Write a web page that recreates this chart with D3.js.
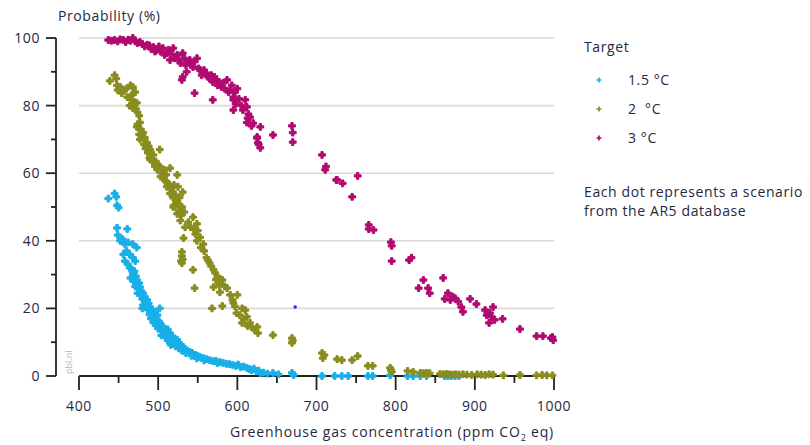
<!DOCTYPE html>
<html>
<head>
<meta charset="utf-8">
<script src="https://cdn.jsdelivr.net/npm/d3@7"></script>
<style>
  body { margin: 0; background: #fff; }
  svg { font-family: "Open Sans", "Noto Sans", sans-serif; }
  .lbl { font-size: 14px; letter-spacing: 0.6px; fill: #262842; font-weight: 500; }
</style>
</head>
<body>
<svg id="chart" width="810" height="445"></svg>
<script>
/* scenario points, [ppm CO2 eq, probability %] */
var target15 = [[437,52.5],[445,54],[447,53],[448,50.5],[450,49.8],[448,43.8],[461,43.5],[449,41.7],[452,40],[455,40.5],[458,39],[462,39.5],[468,39],[473,38],[456,36],[460,37],[464,36],[468,35],[471,34],[458,34],[462,33],[464,32],[467,31.5],[470,31],[468,30.5],[472,29.5],[465,29],[469,28],[473,28.4],[476,27.5],[471,26.5],[475,26],[477,26.3],[479,25],[474,24.5],[478,24],[481,24.5],[483,23.5],[480,22.8],[484,22.5],[486,22.5],[488,21.5],[481,21],[485,20.8],[480,20],[490,20.4],[487,19.6],[492,19.5],[494,18.6],[489,18.2],[496,19],[502,20],[499,18],[491,17],[495,17.2],[498,16.6],[501,16.2],[494,15.8],[497,15],[503,15.5],[506,14.5],[500,14],[504,13.5],[509,14],[512,13.8],[507,12.8],[511,12.5],[515,12.7],[504,12],[509,11.5],[514,11.3],[518,11.8],[521,11],[512,10.5],[517,10.3],[524,10.7],[520,9.8],[526,9.5],[516,9.2],[522,8.8],[529,9.2],[531,8.6],[526,8.2],[534,8],[530,7.5],[537,7.5],[540,7.1],[535,6.8],[543,6.8],[547,6.2],[542,6],[550,5.9],[553,5.6],[549,5.2],[557,5.3],[561,5],[565,4.7],[558,4.6],[569,4.4],[573,4.5],[578,4.1],[575,3.8],[582,3.9],[586,3.6],[590,3.5],[594,3.3],[598,3],[601,3.4],[604,2.6],[608,2.8],[612,2.4],[615,2.1],[618,1.7],[621,2.2],[624,1.4],[629,0.9],[627,1.6],[633,1],[638,0.7],[645,0.9],[652,0.5],[669,0.9],[671,0.3],[707,0],[723,0],[732,0],[740,0],[765,0],[771,0],[793,0.2],[815,0],[822,0],[831,0],[839,0],[862,0],[866,0],[870,0],[875,0],[880,0]];

var target2 = [[439,87.3],[445,89],[447,88],[448,86],[449,84.6],[452,85.5],[454,83.7],[457,84.5],[460,85],[465,86],[468,85.5],[471,84],[466,83],[461,82.5],[467,81.7],[470,80.5],[473,80.8],[464,80],[468,79.3],[472,79],[474,78],[476,77],[477,75],[474,74.5],[473,73.7],[478,73],[481,72],[476,71.5],[479,71],[477,70],[483,70.5],[486,69],[482,68.5],[488,68],[484,67.3],[490,67],[487,66],[491,66],[494,65.4],[502,67],[489,64.5],[490,64],[493,63.5],[497,63.5],[496,62],[500,62.3],[502,62],[499,61],[505,60],[508,61],[515,61.5],[503,59],[507,58.5],[510,59.5],[524,59.5],[509,57.7],[511,57.4],[513,56.8],[511,56],[517,55.6],[520,56.5],[525,56],[515,54],[518,54.5],[531,54.4],[522,53.5],[519,52.7],[524,52],[527,52.8],[525,51],[520,50.5],[530,50],[519,50],[526,49],[524,48],[529,47.5],[533,48.5],[528,46],[544,47],[538,45.5],[549,45],[534,44],[541,44],[545,43.5],[550,43],[547,42],[553,41],[532,40.8],[549,40],[557,39],[554,38],[558,37],[530,36.7],[530,35.5],[531,34.5],[530,33.4],[529,34],[561,35],[563,34.2],[565,33.4],[567,32.5],[570,31.4],[544,31.4],[572,30.5],[575,29.3],[573,28.5],[578,28.8],[581,28.4],[570,26.3],[577,27],[546,26],[584,26.5],[587,26],[578,24.8],[591,24],[600,24],[594,22.5],[595,21.6],[568,20],[581,20.7],[597,20.6],[599,18.6],[606,20],[610,19.5],[603,18],[612,17.5],[608,16.8],[606,15.7],[616,15.7],[613,14.8],[618,14.5],[625,14.5],[622,13.6],[626,12.7],[645,12.1],[669,11.2],[669,9.8],[670,10.5],[707,6.8],[708,5.3],[710,6.2],[726,5],[732,4.7],[745,4.7],[752,5.9],[765,3],[771,3],[793,2.4],[795,1.2],[794,1.8],[815,1.5],[822,1.2],[831,0.9],[835,0.8],[839,0.9],[843,0.8],[856,0.6],[860,0.5],[864,0.6],[868,0.5],[872,0.4],[876,0.5],[880,0.4],[885,0.5],[890,0.4],[896,0.3],[903,0.5],[908,0.4],[913,0.3],[918,0.5],[923,0.4],[936,0.2],[957,0.3],[978,0.2],[985,0.3],[991,0.2],[998,0.2]];

var target3 = [[437,99.4],[441,99.2],[445,99.4],[449,99],[452,99.6],[456,99.4],[459,98.8],[462,99.5],[465,99.2],[468,100],[471,99],[474,98.5],[477,98.8],[480,98.2],[483,97.5],[486,98],[489,97.8],[491,96.8],[494,97.3],[496,96],[498,96.4],[501,97.5],[503,96],[506,97],[508,95],[511,95.5],[513,96.5],[515,93.5],[517,95.2],[519,97],[521,94],[524,95],[526,93.5],[528,92.6],[531,95.5],[533,94],[535,92],[536,90],[538,93],[540,93.5],[542,92],[544,91.4],[546,93],[549,94],[551,91],[553,90.5],[530,87.6],[531,88.5],[555,89],[558,90.5],[561,89.6],[563,88.5],[565,88],[567,89],[569,87],[571,88.5],[573,87.6],[575,86],[577,87],[580,85.5],[582,86.7],[584,85],[587,87.6],[589,84],[591,84.6],[593,86],[595,82.5],[597,84],[600,85],[546,83.7],[569,81.7],[595,81.7],[598,80.5],[602,82],[605,80],[607,78.7],[610,81.7],[612,79.6],[595,78.7],[614,77.5],[613,76.3],[612,75],[616,76.6],[618,74],[620,74.8],[625,70.7],[626,69],[625,70.4],[629,73.7],[629,67.5],[627,68.5],[645,71.3],[669,74],[670,69.2],[670,72],[707,65.4],[711,61],[712,62],[726,58],[725,58],[733,57],[752,59.2],[745,53],[766,44.7],[766,43.5],[772,43.2],[794,39.6],[795,38.5],[795,34],[817,34.3],[820,35],[835,28.4],[829,26],[841,26],[843,24.5],[860,29],[866,24.5],[862,22.8],[869,22.5],[872,23.5],[875,23],[879,22],[883,20.4],[885,19],[894,22.8],[902,21.3],[913,19.5],[915,18],[919,18.6],[918,15.7],[921,17.5],[923,20.4],[925,16.6],[935,16.9],[957,13.9],[978,11.8],[986,11.8],[996,11.2],[999,10.6],[998,11.5]];

/* the single dark blue dot */
var otherPoint = [[673,20.4]];

var seriesNames = ["1.5 °C", "2  °C", "3 °C"];
var seriesColors = ["#19afe8", "#8a8d1e", "#b10a70"];
var xTicks = [400, 500, 600, 700, 800, 900, 1000];
var xMinor = [450, 550, 650, 750, 850, 950];
var yTicks = [0, 20, 40, 60, 80, 100];
var yMinor = [10, 30, 50, 70, 90];

var svg = d3.select("#chart");

var x = d3.scaleLinear().domain([400, 1000]).range([79, 554]);
var y = d3.scaleLinear().domain([0, 100]).range([376, 38]);

/* grid */
svg.append("g").selectAll("line")
  .data(yTicks.filter(function(d) { return d > 0; }))
  .enter().append("line")
  .attr("x1", x(400)).attr("x2", x(1000))
  .attr("y1", function(d) { return y(d); })
  .attr("y2", function(d) { return y(d); })
  .style("stroke", "#d9d9d9").style("stroke-width", 1.6);

/* y axis, offset to the left */
var yAx = svg.append("g");
yAx.append("line").attr("x1", 56).attr("x2", 56)
  .attr("y1", y(100)).attr("y2", y(0))
  .style("stroke", "#222").style("stroke-width", 1.8);
yAx.selectAll(".maj").data(yTicks).enter().append("line")
  .attr("x1", 46).attr("x2", 56)
  .attr("y1", function(d) { return y(d); }).attr("y2", function(d) { return y(d); })
  .style("stroke", "#222").style("stroke-width", 1.8);
yAx.selectAll(".min").data(yMinor).enter().append("line")
  .attr("x1", 51).attr("x2", 56)
  .attr("y1", function(d) { return y(d); }).attr("y2", function(d) { return y(d); })
  .style("stroke", "#222").style("stroke-width", 1.8);
yAx.selectAll("text").data(yTicks).enter().append("text")
  .attr("class", "lbl")
  .attr("x", 40).attr("y", function(d) { return y(d) + 5; })
  .attr("text-anchor", "end")
  .text(function(d) { return d; });

/* x axis */
var xAx = svg.append("g");
xAx.append("line").attr("x1", x(400)).attr("x2", x(1000))
  .attr("y1", 376).attr("y2", 376)
  .style("stroke", "#222").style("stroke-width", 1.8);
xAx.selectAll(".maj").data(xTicks).enter().append("line")
  .attr("x1", function(d) { return x(d); }).attr("x2", function(d) { return x(d); })
  .attr("y1", 376).attr("y2", 390)
  .style("stroke", "#222").style("stroke-width", 1.8);
xAx.selectAll(".min").data(xMinor).enter().append("line")
  .attr("x1", function(d) { return x(d); }).attr("x2", function(d) { return x(d); })
  .attr("y1", 376).attr("y2", 383)
  .style("stroke", "#222").style("stroke-width", 1.8);
xAx.selectAll("text").data(xTicks).enter().append("text")
  .attr("class", "lbl")
  .attr("x", function(d) { return x(d); }).attr("y", 411)
  .attr("text-anchor", "middle")
  .text(function(d) { return d; });

/* titles */
svg.append("text").attr("class", "lbl").attr("x", 58).attr("y", 21)
  .text("Probability (%)");

var xt = svg.append("text").attr("class", "lbl").attr("x", 554).attr("y", 437)
  .attr("text-anchor", "end")
  .style("letter-spacing", "0.8px");
xt.append("tspan").text("Greenhouse gas concentration (ppm CO");
xt.append("tspan").attr("dy", 4).style("font-size", "9px").text("2");
xt.append("tspan").attr("dy", -4).text(" eq)");

svg.append("text")
  .attr("transform", "translate(72,374) rotate(-90)")
  .style("font-size", "9px").style("fill", "#b5b5b5")
  .text("pbl.nl");

/* points */
var cross = d3.symbol().type(d3.symbolCross).size(26);
[target15, target2, target3].forEach(function(data, i) {
  svg.append("g").selectAll("path")
    .data(data)
    .enter().append("path")
    .attr("d", cross)
    .attr("transform", function(d) {
      return "translate(" + x(d[0]) + "," + y(d[1]) + ")";
    })
    .style("fill", seriesColors[i])
    .style("stroke", seriesColors[i])
    .style("stroke-width", 1)
    .style("stroke-linejoin", "round");
});
svg.append("g").selectAll("circle")
  .data(otherPoint)
  .enter().append("circle")
  .attr("cx", function(d) { return x(d[0]); })
  .attr("cy", function(d) { return y(d[1]); })
  .attr("r", 1.8)
  .style("fill", "#2a2aff");

/* legend */
var leg = svg.append("g");
leg.append("text").attr("class", "lbl").attr("x", 584).attr("y", 52).text("Target");
var legY = [80, 109, 138];
seriesNames.forEach(function(name, i) {
  leg.append("path").attr("d", d3.symbol().type(d3.symbolCross).size(14))
    .attr("transform", "translate(599," + legY[i] + ")")
    .style("fill", seriesColors[i]);
  leg.append("text").attr("class", "lbl").attr("x", 628).attr("y", legY[i] + 5)
    .style("white-space", "pre")
    .text(name);
});
leg.append("text").attr("class", "lbl").attr("x", 584).attr("y", 197)
  .text("Each dot represents a scenario");
leg.append("text").attr("class", "lbl").attr("x", 584).attr("y", 216)
  .text("from the AR5 database");
</script>
</body>
</html>
